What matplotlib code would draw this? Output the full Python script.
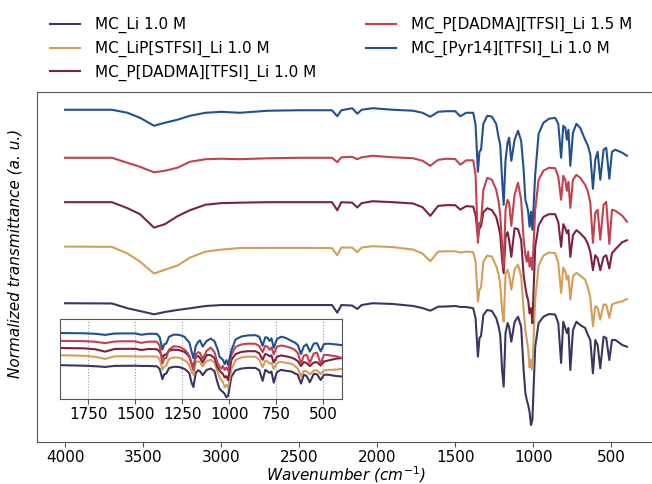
import matplotlib
matplotlib.use("Agg")
import matplotlib.pyplot as plt
import numpy as np

# Wavenumber grid (cm^-1), shared by all spectra
wavenumber = [4000, 3700, 3600, 3520, 3430, 3360, 3280, 3200, 3100, 3000,
              2880, 2700, 2500, 2290, 2256, 2230, 2160, 2128, 2100, 2030,
              1900, 1770, 1710, 1660, 1610, 1560, 1500, 1468, 1430, 1385,
              1370, 1355, 1345, 1335, 1320, 1295, 1265, 1238, 1222, 1212,
              1200, 1190, 1178, 1165, 1155, 1141, 1120, 1098, 1078, 1062,
              1051, 1042, 1033, 1024, 1015, 1006, 988, 966, 935, 900,
              860, 840, 822, 808, 795, 785, 775, 763, 746, 724,
              700, 668, 650, 635, 618, 603, 588, 571, 550, 533,
              513, 496, 474, 430, 400]

# Normalized transmittance (a.u.)
mc_li = [99.8, 99.6, 95.6, 93.3, 90.6, 92.5, 94.2, 95.6, 97.5, 98.3,
         98.3, 98.3, 98.3, 98.3, 91.9, 98.3, 97.9, 95.0, 98.3, 99.8,
         99.2, 97.5, 95.8, 93.6, 96.9, 97.1, 97.5, 96.7, 96.7, 95.6,
         87.5, 55.3, 70.8, 72.5, 90.0, 94.2, 93.3, 87.5, 80.3, 73.3,
         44.2, 30.3, 75.0, 83.3, 80.0, 67.8, 84.2, 88.6, 80.3, 44.2,
         25.0, 19.2, 15.0, 9.2, -1.7, 2.5, 63.6, 83.3, 88.6, 90.8,
         90.4, 83.3, 50.0, 84.4, 79.2, 75.0, 79.2, 44.2, 77.5, 84.4,
         81.7, 79.2, 73.3, 69.2, 41.4, 69.2, 65.0, 45.6, 71.9, 70.8,
         52.5, 69.2, 69.2, 65.0, 63.6]

mc_lipstfsi = [100.0, 99.8, 94.2, 87.5, 77.5, 80.8, 84.2, 90.8, 95.8, 97.5,
               98.8, 98.9, 98.9, 98.8, 92.8, 99.2, 99.2, 95.3, 99.2, 100.3,
               99.6, 97.5, 94.2, 87.8, 95.8, 96.1, 96.1, 95.0, 95.8, 95.4,
               87.5, 54.2, 64.2, 65.8, 87.5, 92.5, 91.7, 83.6, 76.7, 68.3,
               47.5, 37.5, 76.7, 80.8, 76.7, 64.2, 80.8, 85.0, 75.3, 47.5,
               30.8, 22.5, 14.2, -0.8, 5.8, -2.5, 55.8, 84.2, 92.5, 95.0,
               94.6, 86.4, 61.4, 82.5, 79.2, 72.5, 75.8, 55.8, 75.3, 78.1,
               75.8, 72.5, 65.8, 57.5, 33.6, 50.3, 49.2, 39.2, 51.7, 51.7,
               40.6, 51.7, 53.1, 54.4, 56.4]

mc_pdadma_10 = [100.0, 100.0, 95.0, 90.0, 78.8, 81.7, 88.3, 93.3, 97.9, 99.2,
                99.6, 100.0, 100.0, 100.0, 93.3, 100.0, 99.6, 95.6, 99.2, 100.8,
                100.0, 98.9, 95.8, 88.6, 96.9, 97.5, 97.5, 93.8, 96.7, 96.3,
                89.2, 71.1, 78.3, 80.0, 91.7, 95.0, 93.3, 87.8, 79.4, 72.5,
                51.7, 40.8, 71.1, 75.0, 68.3, 54.4, 78.3, 77.5, 68.3, 39.2,
                29.2, 22.5, 18.3, 7.5, 11.7, -0.8, 62.8, 80.8, 87.8, 90.0,
                90.0, 83.3, 62.8, 81.7, 78.3, 74.2, 76.7, 54.4, 72.5, 76.7,
                74.2, 69.8, 65.0, 58.6, 43.3, 55.8, 53.3, 43.3, 54.4, 55.8,
                44.8, 57.5, 60.8, 66.7, 68.3]

mc_pdadma_15 = [100.0, 100.0, 95.8, 92.5, 87.9, 89.2, 91.7, 96.7, 98.8, 99.2,
                98.8, 99.6, 100.0, 100.0, 96.3, 100.4, 100.8, 98.8, 100.4, 101.7,
                100.4, 99.6, 97.5, 93.3, 98.3, 99.2, 98.9, 94.2, 97.9, 97.9,
                85.8, 29.2, 45.8, 46.7, 73.3, 83.3, 81.7, 73.3, 63.3, 52.5,
                27.5, 8.3, 56.7, 65.0, 62.5, 43.3, 69.2, 79.2, 65.0, 31.7,
                19.2, 13.3, 21.7, 9.2, 16.7, 6.7, 56.7, 81.7, 89.2, 91.7,
                91.3, 84.2, 65.0, 85.0, 81.7, 72.5, 80.0, 58.3, 81.7, 85.8,
                83.3, 77.5, 71.7, 62.5, 29.2, 54.2, 56.7, 31.7, 60.8, 63.3,
                28.3, 56.7, 55.8, 51.7, 46.7]

mc_pyr14 = [100.0, 100.0, 97.5, 93.3, 86.7, 89.2, 91.7, 95.0, 97.5, 98.3,
            97.5, 99.2, 99.6, 99.6, 94.6, 99.6, 101.3, 96.7, 100.0, 101.3,
            100.0, 99.2, 97.5, 94.2, 98.3, 98.8, 98.8, 94.6, 97.5, 97.5,
            87.5, 48.3, 65.0, 66.7, 88.3, 95.0, 94.2, 88.3, 76.7, 70.8,
            41.7, 20.8, 58.3, 72.5, 76.7, 57.5, 75.0, 82.5, 74.2, 50.0,
            25.0, 20.8, 15.0, 2.5, 15.0, 0.0, 45.8, 80.0, 89.2, 92.5,
            93.3, 88.3, 60.0, 86.7, 85.0, 75.0, 83.3, 53.3, 80.8, 88.3,
            85.0, 75.0, 70.0, 62.5, 34.2, 58.3, 65.0, 41.7, 66.7, 68.3,
            42.5, 65.0, 66.7, 64.2, 61.7]

labels = ["MC_Li 1.0 M", "MC_LiP[STFSI]_Li 1.0 M", "MC_P[DADMA][TFSI]_Li 1.0 M",
          "MC_P[DADMA][TFSI]_Li 1.5 M", "MC_[Pyr14][TFSI]_Li 1.0 M"]
series = [mc_li, mc_lipstfsi, mc_pdadma_10, mc_pdadma_15, mc_pyr14]
colors = ["#3c3562", "#d49e58", "#7a2240", "#c2414f", "#22508f"]
offsets_main = [0, 47, 84, 121, 161]
offsets_inset = [0, 31, 53, 75, 100]

main_ticks = [4000, 3500, 3000, 2500, 2000, 1500, 1000, 500]
inset_ticks = [1750, 1500, 1250, 1000, 750, 500]

plt.rcParams['font.family'] = ['DejaVu Sans']
fig = plt.figure(figsize=(6.52, 4.84), dpi=100)

ax = fig.add_axes([0.0567, 0.0868, 0.948, 0.7231])
wn = np.array(wavenumber)
handles = []
for s, off, c, lab in zip(series, offsets_main, colors, labels):
    h, = ax.plot(wn, np.array(s) + off, color=c, lw=1.5, label=lab)
    handles.append(h)
ax.set_xlim(4180, 220)
ax.set_ylim(-15.8, 275.8)
ax.set_yticks([])
ax.set_xticks(main_ticks)
ax.tick_params(axis='x', labelsize=11, color='#555555', length=3.5, pad=2.5)
for sp in ax.spines.values():
    sp.set_color('#555555')
ax.set_xlabel('Wavenumber ($cm^{-1}$)', fontsize=11, style='italic', labelpad=-1)
ax.set_ylabel('Normalized transmittance (a. u.)', fontsize=11, style='italic')
ax.yaxis.set_label_coords(-0.024, 0.54)

ax2 = fig.add_axes([0.092, 0.1756, 0.4325, 0.1653])
for s, off, c in zip(series, offsets_inset, colors):
    ax2.plot(wn, np.array(s) + off, color=c, lw=1.5)
ax2.set_xlim(1900, 400)
ax2.set_ylim(-7, 244)
ax2.set_yticks([])
ax2.set_xticks(inset_ticks)
ax2.tick_params(axis='x', labelsize=11, color='#555555', length=3.5, pad=2.5)
ax2.grid(axis='x', linestyle=':', color='#999999', lw=0.8)
for sp in ax2.spines.values():
    sp.set_color('#555555')

fig.legend(handles, labels, loc='upper left', bbox_to_anchor=(0.055, 0.993),
           ncol=2, frameon=False, fontsize=11, columnspacing=3.2,
           handletextpad=1.0, labelspacing=0.5)

fig.savefig('out.png', dpi=100)
